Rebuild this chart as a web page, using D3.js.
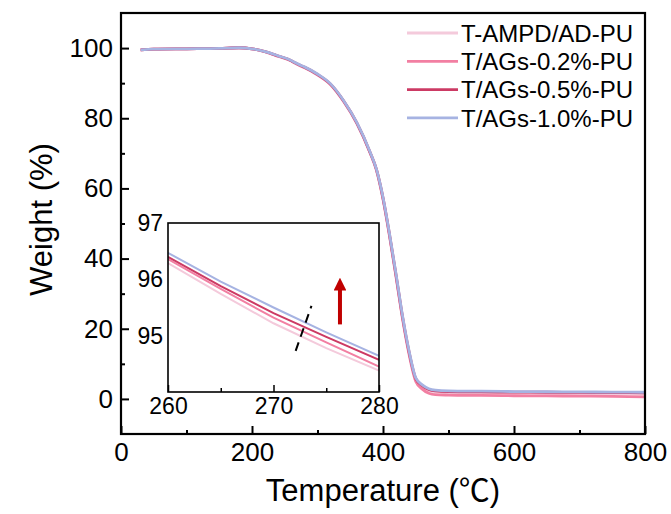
<!DOCTYPE html>
<html>
<head>
<meta charset="utf-8">
<script src="https://cdn.jsdelivr.net/npm/d3@7"></script>
<style>
  body { margin: 0; background: #fff; }
  text { font-family: "Liberation Sans", Arial, sans-serif; fill: #000; }
</style>
</head>
<body>
<div id="chart"></div>
<script>
// data
const seriesNames = ['T-AMPD/AD-PU', 'T/AGs-0.2%-PU', 'T/AGs-0.5%-PU', 'T/AGs-1.0%-PU'];
const seriesColors = ['#f4cadb', '#f27fa2', '#cc3a64', '#a6b3e2'];

const temps = [30, 50, 100, 150, 180, 200, 220, 240, 260, 265, 270, 275, 280, 300, 320, 340, 360, 380, 390, 400,
               410, 420, 430, 440, 450, 460, 470, 480, 500, 550, 600, 650, 700, 750, 800];

const wAMPD = [99.5, 99.7, 99.8, 99.9, 100.1, 99.8, 98.9, 97.6, 96.29, 95.74, 95.22, 94.78, 94.38, 92.3, 89.5, 84.7, 78.5, 70.2, 65.1, 56.9,
               46.3, 34.8, 22.9, 13.0, 5.6, 3.5, 2.4, 2.0, 1.8, 1.7, 1.6, 1.55, 1.5, 1.45, 1.4];
const wAG02 = [99.5, 99.7, 99.8, 99.9, 100.1, 99.8, 98.95, 97.7, 96.36, 95.83, 95.32, 94.88, 94.45, 92.4, 89.6, 84.8, 78.6, 70.3, 65.2, 57.0,
               46.4, 34.7, 22.6, 12.5, 5.0, 2.8, 1.6, 1.2, 1.1, 1.0, 0.9, 0.85, 0.8, 0.7, 0.6];
const wAG05 = [99.5, 99.7, 99.8, 99.9, 100.1, 99.8, 99.0, 97.75, 96.40, 95.88, 95.40, 94.98, 94.57, 92.5, 89.7, 84.9, 78.7, 70.4, 65.4, 57.3,
               46.8, 35.2, 23.2, 13.2, 5.8, 3.8, 2.7, 2.3, 2.1, 2.0, 1.95, 1.9, 1.85, 1.8, 1.75];
const wAG10 = [99.5, 99.7, 99.8, 99.9, 100.1, 99.8, 99.0, 97.8, 96.47, 95.96, 95.50, 95.06, 94.64, 92.6, 89.8, 85.0, 78.8, 70.5, 65.5, 57.5,
               47.0, 35.5, 23.5, 13.5, 6.0, 4.0, 2.9, 2.5, 2.3, 2.2, 2.1, 2.05, 2.0, 1.95, 1.9];

const xTicks = [0, 200, 400, 600, 800];
const xMinor = [100, 300, 500, 700];
const yTicks = [0, 20, 40, 60, 80, 100];
const yMinor = [10, 30, 50, 70, 90];

const insetXTicks = [260, 270, 280];
const insetXMinor = [265, 275];
const insetYTicks = [95, 96, 97];

// dashed marker and arrow in the inset (temperature, weight)
const dashLine = [[272.1, 94.73], [273.6, 95.53]];
const arrowLine = [[276.3, 95.2], [276.3, 96.06]];

const weights = [wAMPD, wAG02, wAG05, wAG10];

const W = 671, H = 514;
const margin = { left: 121, top: 13, right: 26, bottom: 80 };
const plotW = W - margin.left - margin.right;
const plotH = H - margin.top - margin.bottom;

const svg = d3.select('#chart').append('svg')
    .attr('width', W)
    .attr('height', H);

const x = d3.scaleLinear().domain([0, 800]).range([margin.left, margin.left + plotW]);
const y = d3.scaleLinear().domain([-10, 110]).range([margin.top + plotH, margin.top]);

svg.append('clipPath').attr('id', 'mainClip')
    .append('rect')
    .attr('x', margin.left).attr('y', margin.top)
    .attr('width', plotW).attr('height', plotH);

const series = seriesNames.map((name, i) => ({
    name: name,
    color: seriesColors[i],
    values: temps.map((t, j) => ({ t: t, w: weights[i][j] }))
}));

const mainLine = d3.line()
    .x(d => x(d.t))
    .y(d => y(d.w))
    .curve(d3.curveMonotoneX);

svg.append('g')
    .attr('clip-path', 'url(#mainClip)')
    .selectAll('path')
    .data(series)
    .enter()
    .append('path')
    .attr('d', d => mainLine(d.values))
    .attr('fill', 'none')
    .attr('stroke', d => d.color)
    .attr('stroke-width', 2.8);

// axes, ticks pointing inward
function styleAxis(g, size) {
    g.select('.domain').remove();
    g.selectAll('line').attr('stroke', '#000').attr('stroke-width', 2);
    g.selectAll('text').attr('font-size', size).attr('fill', '#000')
        .attr('font-family', '"Liberation Sans", Arial, sans-serif');
}

svg.append('g')
    .attr('transform', `translate(0,${margin.top + plotH})`)
    .call(d3.axisBottom(x).tickValues(xTicks).tickSize(-8).tickPadding(9).tickFormat(d3.format('d')))
    .call(g => styleAxis(g, 26));

svg.append('g')
    .attr('transform', `translate(0,${margin.top + plotH})`)
    .call(d3.axisBottom(x).tickValues(xMinor).tickSize(-4).tickFormat(''))
    .call(g => styleAxis(g, 26));

svg.append('g')
    .attr('transform', `translate(${margin.left},0)`)
    .call(d3.axisLeft(y).tickValues(yTicks).tickSize(-8).tickPadding(8).tickFormat(d3.format('d')))
    .call(g => styleAxis(g, 26));

svg.append('g')
    .attr('transform', `translate(${margin.left},0)`)
    .call(d3.axisLeft(y).tickValues(yMinor).tickSize(-4).tickFormat(''))
    .call(g => styleAxis(g, 26));

svg.append('rect')
    .attr('x', margin.left).attr('y', margin.top)
    .attr('width', plotW).attr('height', plotH)
    .attr('fill', 'none')
    .attr('stroke', '#000')
    .attr('stroke-width', 2.2);

// axis titles
const xTitle = svg.append('text')
    .attr('x', margin.left + plotW / 2)
    .attr('y', 501)
    .attr('text-anchor', 'middle')
    .attr('font-size', 31);
xTitle.append('tspan').text('Temperature (');
xTitle.append('tspan').attr('font-family', '"Noto Sans CJK SC", "DejaVu Sans", sans-serif').text('℃');
xTitle.append('tspan').text(')');

svg.append('text')
    .attr('transform', `translate(52,${margin.top + plotH / 2 - 4}) rotate(-90)`)
    .attr('text-anchor', 'middle')
    .attr('font-size', 31)
    .text('Weight (%)');

// legend
const legend = svg.append('g');
const legendItem = legend.selectAll('g')
    .data(series)
    .enter()
    .append('g')
    .attr('transform', (d, i) => `translate(407,${33 + i * 28.3})`);

legendItem.append('line')
    .attr('x1', 0).attr('x2', 51)
    .attr('stroke', d => d.color)
    .attr('stroke-width', 2.8);

legendItem.append('text')
    .attr('x', 54)
    .attr('dy', '0.36em')
    .attr('font-size', 24)
    .text(d => d.name);

// inset
const inset = { left: 168, top: 223, right: 379, bottom: 392 };
const ix = d3.scaleLinear().domain([260, 280]).range([inset.left, inset.right]);
const iy = d3.scaleLinear().domain([94, 97]).range([inset.bottom, inset.top]);

svg.append('rect')
    .attr('x', inset.left).attr('y', inset.top)
    .attr('width', inset.right - inset.left).attr('height', inset.bottom - inset.top)
    .attr('fill', '#fff');

svg.append('clipPath').attr('id', 'insetClip')
    .append('rect')
    .attr('x', inset.left).attr('y', inset.top)
    .attr('width', inset.right - inset.left).attr('height', inset.bottom - inset.top);

const insetLine = d3.line()
    .x(d => ix(d.t))
    .y(d => iy(d.w));

svg.append('g')
    .attr('clip-path', 'url(#insetClip)')
    .selectAll('path')
    .data(series)
    .enter()
    .append('path')
    .attr('d', d => insetLine(d.values.filter(v => v.t >= 255 && v.t <= 285)))
    .attr('fill', 'none')
    .attr('stroke', d => d.color)
    .attr('stroke-width', 2);

svg.append('g')
    .attr('transform', `translate(0,${inset.bottom})`)
    .call(d3.axisBottom(ix).tickValues(insetXTicks).tickSize(-7).tickPadding(6).tickFormat(d3.format('d')))
    .call(g => styleAxis(g, 23))
    .call(g => g.selectAll('line').attr('stroke-width', 1.5));

svg.append('g')
    .attr('transform', `translate(0,${inset.bottom})`)
    .call(d3.axisBottom(ix).tickValues(insetXMinor).tickSize(-4).tickFormat(''))
    .call(g => styleAxis(g, 23))
    .call(g => g.selectAll('line').attr('stroke-width', 1.5));

svg.append('g')
    .attr('transform', `translate(${inset.left},0)`)
    .call(d3.axisLeft(iy).tickValues(insetYTicks).tickSize(0).tickPadding(5).tickFormat(d3.format('d')))
    .call(g => styleAxis(g, 23));

svg.append('rect')
    .attr('x', inset.left).attr('y', inset.top)
    .attr('width', inset.right - inset.left).attr('height', inset.bottom - inset.top)
    .attr('fill', 'none')
    .attr('stroke', '#000')
    .attr('stroke-width', 1.6);

// dashed marker
svg.append('line')
    .attr('x1', ix(dashLine[0][0])).attr('y1', iy(dashLine[0][1]))
    .attr('x2', ix(dashLine[1][0])).attr('y2', iy(dashLine[1][1]))
    .attr('stroke', '#000')
    .attr('stroke-width', 2)
    .attr('stroke-dasharray', '9,6');

// red arrow
const defs = svg.append('defs');
defs.append('marker')
    .attr('id', 'arrowHead')
    .attr('viewBox', '0 0 10 10')
    .attr('refX', 2).attr('refY', 5)
    .attr('markerWidth', 3.2).attr('markerHeight', 3.2)
    .attr('markerUnits', 'strokeWidth')
    .attr('orient', 'auto')
    .append('path')
    .attr('d', 'M0,0 L10,5 L0,10 Z')
    .attr('fill', '#c00000');

svg.append('line')
    .attr('x1', ix(arrowLine[0][0])).attr('y1', iy(arrowLine[0][1]))
    .attr('x2', ix(arrowLine[1][0])).attr('y2', iy(arrowLine[1][1]) + 12)
    .attr('stroke', '#c00000')
    .attr('stroke-width', 4)
    .attr('marker-end', 'url(#arrowHead)');
</script>
</body>
</html>
